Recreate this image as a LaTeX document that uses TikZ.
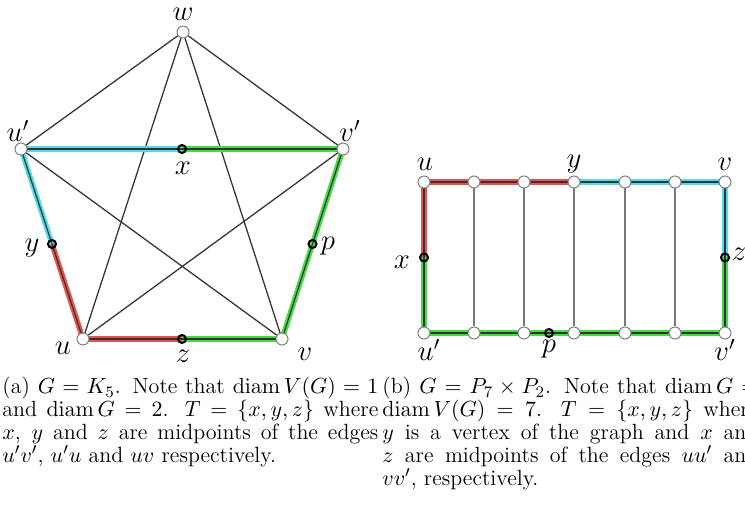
\documentclass[tikz,border=0pt]{standalone}
\usepackage{amsmath}
\usetikzlibrary{backgrounds}
\definecolor{cred}{RGB}{235,80,80}
\definecolor{ccyan}{RGB}{80,220,232}
\definecolor{cgreen}{RGB}{70,220,70}
\definecolor{edgegray}{RGB}{55,55,55}
\definecolor{runggray}{RGB}{120,120,120}
\tikzset{
 vtx/.style={circle,draw=black!50,fill=white,line width=0.5pt,minimum size=6pt,inner sep=0pt},
 midpt/.style={circle,draw=black,line width=1pt,minimum size=4pt,inner sep=0pt},
 lab/.style={inner sep=0pt,font=\fontsize{14}{16}\selectfont},
 plain/.style={draw=edgegray,line width=0.65pt},
 rung/.style={draw=runggray,line width=0.65pt},
 colored/.style={draw=black!80,line width=0.6pt,preaction={draw=#1,line width=2.7pt}},
 capt/.style={anchor=north west,inner sep=0pt,text width=188pt,align=justify,font=\fontsize{11}{11.5}\selectfont}
}
\begin{document}
\begin{tikzpicture}[x=0.5pt,y=-0.5pt]
\useasboundingbox (0,0) rectangle (745,512);
\clip (0,0) rectangle (745,512);
% ---------- left graph: K5 ----------
\node[vtx] (w) at (183,32) {};
\node[vtx] (up) at (21,149) {};
\node[vtx] (vp) at (343,149) {};
\node[vtx] (u) at (83,339) {};
\node[vtx] (v) at (282,339) {};
\node[midpt] (x) at (182,149) {};
\node[midpt] (z) at (182,339) {};
\node[midpt] (y) at (52,244) {};
\node[midpt] (p) at (312.5,244) {};
\begin{scope}[on background layer]
\draw[plain] (w) -- (up);
\draw[plain] (w) -- (vp);
\draw[plain] (w) -- (u);
\draw[plain] (w) -- (v);
\draw[plain] (up) -- (v);
\draw[plain] (vp) -- (u);
\draw[colored=ccyan] (up.center) -- (x.center);
\draw[colored=cgreen] (x.center) -- (vp.center);
\draw[colored=cgreen] (vp.center) -- (p.center);
\draw[colored=cgreen] (p.center) -- (v.center);
\draw[colored=cgreen] (v.center) -- (z.center);
\draw[colored=cred] (z.center) -- (u.center);
\draw[colored=cred] (u.center) -- (y.center);
\draw[colored=ccyan] (y.center) -- (up.center);
\end{scope}
\node[lab] (lw) at (183,14) {$w$};
\node[lab] (lup) at (18,131) {$u'$};
\node[lab] (lvp) at (350,131) {$v'$};
\node[lab] (lx) at (183,168) {$x$};
\node[lab] (ly) at (32,248) {$y$};
\node[lab] (lp) at (328,246) {$p$};
\node[lab] (lu) at (63,348) {$u$};
\node[lab] (lz) at (183,356) {$z$};
\node[lab] (lv) at (305,354) {$v$};
% ---------- right graph: P7 x P2 ----------
\foreach \i/\xx in {1/424,2/474,3/524,4/574,5/625,6/675,7/725}{
  \node[vtx] (t\i) at (\xx,182) {};
  \node[vtx] (b\i) at (\xx,333) {};
}
\node[midpt] (rx) at (424,257.5) {};
\node[midpt] (rz) at (725,257.5) {};
\node[midpt] (rp) at (549,333) {};
\begin{scope}[on background layer]
\foreach \i in {2,...,6}{ \draw[rung] (t\i) -- (b\i); }
\draw[colored=cred] (t1.center) -- (t2.center) -- (t3.center) -- (t4.center);
\draw[colored=ccyan] (t4.center) -- (t5.center) -- (t6.center) -- (t7.center) -- (rz.center);
\draw[colored=cgreen] (rz.center) -- (b7.center) -- (b6.center) -- (b5.center) -- (b4.center) -- (rp.center) -- (b3.center) -- (b2.center) -- (b1.center) -- (rx.center);
\draw[colored=cred] (rx.center) -- (t1.center);
\end{scope}
\node[lab] (ru) at (425,164) {$u$};
\node[lab] (ry) at (574,164) {$y$};
\node[lab] (rv) at (725,164) {$v$};
\node[lab] (rxl) at (402,262) {$x$};
\node[lab] (rzl) at (739,254) {$z$};
\node[lab] (rup) at (429,350) {$u'$};
\node[lab] (rpl) at (549,349) {$p$};
\node[lab] (rvp) at (725,350) {$v'$};
% ---------- captions ----------
\node[capt] (ca) at (2,377) {(a) $G=K_5$. Note that $\operatorname{diam} V(G)=1$\linebreak and $\operatorname{diam} G=2$. $T=\{x,y,z\}$ where\linebreak $x$, $y$ and $z$ are midpoints of the edges\linebreak $u'v'$, $u'u$ and $uv$ respectively.};
\node[capt] (cb) at (382,377) {(b) $G=P_7\times P_2$. Note that $\operatorname{diam} G=$\linebreak $\operatorname{diam} V(G)=7$. $T=\{x,y,z\}$ where\linebreak $y$ is a vertex of the graph and $x$ and\linebreak $z$ are midpoints of the edges $uu'$ and\linebreak $vv'$, respectively.};
\end{tikzpicture}
\end{document}
